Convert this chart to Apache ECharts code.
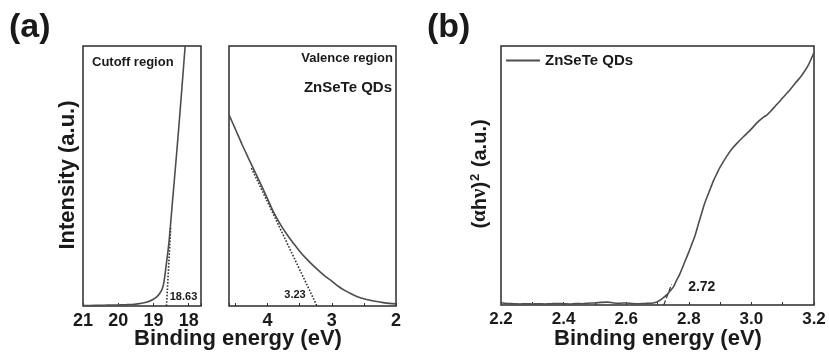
<!DOCTYPE html>
<html>
<head>
<meta charset="utf-8">
<script src="https://cdn.jsdelivr.net/npm/echarts@6/dist/echarts.min.js"></script>
<style>
  html, body { margin: 0; padding: 0; background: #fff; }
  #chart { width: 829px; height: 353px; }
</style>
</head>
<body>
<div id="chart"></div>
<script>
// UPS secondary-electron cutoff (binding energy, eV / intensity, a.u.)
const cutoffEnergy = [21.0, 20.8, 20.6, 20.4, 20.2, 20.0, 19.8, 19.6, 19.4, 19.2, 19.0, 18.9, 18.83, 18.76, 18.72, 18.68, 18.64, 18.60, 18.56, 18.52, 18.47, 18.40, 18.30, 18.20, 18.10, 18.07];
const cutoffIntensity = [0.2, 0.2, 0.25, 0.3, 0.35, 0.4, 0.5, 0.6, 0.9, 1.4, 2.6, 3.6, 4.7, 6.3, 8.0, 11.2, 15.5, 19.8, 24.5, 30.5, 38.5, 49.5, 65.5, 82.5, 100, 105];
const cutoffOnset = 18.63;
const cutoffTangentEnergy = [cutoffOnset, 18.51];
const cutoffTangentIntensity = [0, 30];

// UPS valence-band edge
const valenceEnergy = [4.6, 4.5, 4.4, 4.3, 4.2, 4.1, 4.0, 3.9, 3.8, 3.7, 3.6, 3.5, 3.4, 3.3, 3.2, 3.1, 3.0, 2.9, 2.8, 2.7, 2.6, 2.5, 2.4, 2.3, 2.2, 2.1, 2.0];
const valenceIntensity = [73.5, 68, 62.3, 57, 51.8, 46.6, 41.2, 35.8, 31.4, 27.6, 24.2, 21.1, 18.3, 15.8, 13.5, 11.4, 9.6, 7.6, 6.0, 4.7, 3.6, 2.8, 2.2, 1.7, 1.3, 1.0, 0.8];
const valenceOnset = 3.23;
const valenceTangentEnergy = [4.25, valenceOnset];
const valenceTangentIntensity = [53, 0];

// Tauc plot, (alpha h nu)^2 versus photon energy
const taucEnergy = [2.20, 2.22, 2.24, 2.26, 2.28, 2.30, 2.32, 2.34, 2.36, 2.38, 2.40, 2.42, 2.44, 2.46, 2.48, 2.50, 2.52, 2.54, 2.56, 2.58, 2.60, 2.62, 2.64, 2.66, 2.68, 2.70, 2.71, 2.72, 2.73, 2.74, 2.75, 2.76, 2.77, 2.78, 2.79, 2.80, 2.81, 2.82, 2.83, 2.84, 2.85, 2.86, 2.87, 2.88, 2.89, 2.90, 2.92, 2.94, 2.96, 2.98, 3.00, 3.02, 3.04, 3.05, 3.06, 3.08, 3.09, 3.10, 3.12, 3.14, 3.16, 3.18, 3.20];
const taucValue = [0.9, 0.6, 0.5, 0.4, 0.5, 0.4, 0.5, 0.4, 0.5, 0.6, 0.5, 0.4, 0.6, 0.5, 0.7, 0.8, 1.0, 1.1, 0.8, 0.7, 0.8, 0.6, 0.5, 0.6, 0.7, 1.3, 2.0, 2.9, 4.0, 5.4, 6.8, 9.3, 11.6, 14.5, 17.5, 20.4, 23.6, 26.8, 31.0, 35.0, 39.0, 42.2, 45.3, 48.3, 50.8, 53.2, 57.2, 60.6, 63.2, 65.6, 68.0, 70.6, 72.6, 73.4, 74.6, 77.3, 78.6, 80.0, 82.6, 85.6, 88.5, 92.2, 97.5];
const taucOnset = 2.72;
const taucTangentEnergy = [taucOnset, 2.745];
const taucTangentValue = [0, 8];

const sampleName = 'ZnSeTe QDs';

const SANS = '"Liberation Sans", Arial, Helvetica, sans-serif';
const SERIF = '"Liberation Serif", "Times New Roman", serif';
const INK = '#1a1a1a';
const CURVE = '#4d4d4d';

const zip = (xs, ys) => xs.map((x, i) => [x, ys[i]]);
const near = (v, step) => Math.abs(v / step - Math.round(v / step)) < 1e-6;

function onsetLabel(offset, size) {
  return {
    show: true,
    position: 'inside',
    offset: offset,
    formatter: p => p.value[0].toFixed(2),
    color: INK,
    fontFamily: SANS,
    fontWeight: 'bold',
    fontSize: size
  };
}

const gridBase = { show: true, borderColor: '#2b2b2b', borderWidth: 1.5, backgroundColor: 'transparent' };

const xBase = {
  type: 'value',
  inverse: true,
  axisLine: { show: false },
  axisTick: { show: true, inside: true, length: 3, lineStyle: { color: '#333', width: 1 } },
  splitLine: { show: false },
  axisLabel: { color: INK, fontFamily: SANS, fontWeight: 'bold', fontSize: 18, margin: 6 }
};

const yBase = {
  type: 'value', min: 0, max: 100,
  axisLine: { show: false }, axisTick: { show: false },
  axisLabel: { show: false }, splitLine: { show: false }
};

const chart = echarts.init(document.getElementById('chart'), null, { renderer: 'canvas' });

chart.setOption({
  animation: false,
  backgroundColor: '#fff',
  grid: [
    Object.assign({ left: 83, top: 46, width: 118, height: 260 }, gridBase),
    Object.assign({ left: 229, top: 46, width: 167, height: 260 }, gridBase),
    Object.assign({ left: 501, top: 46, width: 313, height: 259 }, gridBase)
  ],
  xAxis: [
    Object.assign({}, xBase, {
      gridIndex: 0, min: 17.65, max: 21, splitNumber: 3,
      axisLabel: Object.assign({}, xBase.axisLabel, {
        formatter: v => near(v, 1) ? String(Math.round(v)) : ''
      })
    }),
    Object.assign({}, xBase, {
      gridIndex: 1, min: 2, max: 4.6, interval: 0.5,
      axisLabel: Object.assign({}, xBase.axisLabel, {
        formatter: v => near(v, 1) ? String(Math.round(v)) : ''
      })
    }),
    Object.assign({}, xBase, {
      gridIndex: 2, inverse: false, min: 2.2, max: 3.2, interval: 0.1,
      axisLabel: Object.assign({}, xBase.axisLabel, {
        fontSize: 17,
        formatter: v => near(v, 0.2) ? v.toFixed(1) : ''
      })
    })
  ],
  yAxis: [
    Object.assign({ gridIndex: 0 }, yBase),
    Object.assign({ gridIndex: 1 }, yBase),
    Object.assign({ gridIndex: 2 }, yBase)
  ],
  legend: {
    data: [sampleName],
    left: 506, top: 53, padding: 0,
    icon: 'rect', itemWidth: 34, itemHeight: 2, itemGap: 4,
    itemStyle: { color: CURVE },
    textStyle: { color: INK, fontFamily: SANS, fontWeight: 'bold', fontSize: 15 }
  },
  series: [
    {
      name: 'cutoff', type: 'line', xAxisIndex: 0, yAxisIndex: 0,
      data: zip(cutoffEnergy, cutoffIntensity), showSymbol: false, symbol: 'none',
      smooth: 0.3, lineStyle: { color: CURVE, width: 1.6 }, z: 3
    },
    {
      name: 'cutoff onset', type: 'line', xAxisIndex: 0, yAxisIndex: 0,
      data: [
        { value: [cutoffTangentEnergy[0], cutoffTangentIntensity[0]], label: onsetLabel([17, -9], 11) },
        { value: [cutoffTangentEnergy[1], cutoffTangentIntensity[1]] }
      ],
      symbol: 'circle', symbolSize: 0, showSymbol: true,
      itemStyle: { color: 'rgba(0,0,0,0)' },
      lineStyle: { color: '#333', width: 1.6, type: 'dotted' }, z: 2
    },
    {
      name: 'valence', type: 'line', xAxisIndex: 1, yAxisIndex: 1,
      data: zip(valenceEnergy, valenceIntensity), showSymbol: false, symbol: 'none',
      smooth: 0.3, lineStyle: { color: CURVE, width: 1.6 }, z: 3
    },
    {
      name: 'valence onset', type: 'line', xAxisIndex: 1, yAxisIndex: 1,
      data: [
        { value: [valenceTangentEnergy[0], valenceTangentIntensity[0]] },
        { value: [valenceTangentEnergy[1], valenceTangentIntensity[1]], label: onsetLabel([-22, -11], 11) }
      ],
      symbol: 'circle', symbolSize: 0, showSymbol: true,
      itemStyle: { color: 'rgba(0,0,0,0)' },
      lineStyle: { color: '#333', width: 1.6, type: 'dotted' }, z: 2
    },
    {
      name: sampleName, type: 'line', xAxisIndex: 2, yAxisIndex: 2,
      data: zip(taucEnergy, taucValue), showSymbol: false, symbol: 'none',
      smooth: 0.3, lineStyle: { color: CURVE, width: 1.6 }, itemStyle: { color: CURVE }, z: 3
    },
    {
      name: 'tauc onset', type: 'line', xAxisIndex: 2, yAxisIndex: 2,
      data: [
        { value: [taucTangentEnergy[0], taucTangentValue[0]], label: onsetLabel([38, -18], 14) },
        { value: [taucTangentEnergy[1], taucTangentValue[1]] }
      ],
      symbol: 'circle', symbolSize: 0, showSymbol: true,
      itemStyle: { color: 'rgba(0,0,0,0)' },
      lineStyle: { color: '#333', width: 1.2, type: 'dashed' }, z: 2
    }
  ],
  graphic: [
    { type: 'text', x: 9, y: 28, style: { text: '(a)', fill: INK, font: 'bold 34px ' + SANS, verticalAlign: 'middle' } },
    { type: 'text', x: 427, y: 28, style: { text: '(b)', fill: INK, font: 'bold 34px ' + SANS, verticalAlign: 'middle' } },
    { type: 'text', x: 68, y: 175, rotation: Math.PI / 2,
      style: { text: 'Intensity (a.u.)', fill: INK, font: 'bold 22px ' + SANS, align: 'center', verticalAlign: 'middle' } },
    { type: 'text', x: 480, y: 174, rotation: Math.PI / 2,
      style: {
        text: '{s|(}{g|α}{s|h}{g|ν}{s|)}{sup|2}{s| (a.u.)}',
        align: 'center', verticalAlign: 'middle',
        rich: {
          s: { fill: INK, font: 'bold 20px ' + SANS },
          g: { fill: INK, font: 'bold 21px ' + SERIF },
          sup: { fill: INK, font: 'bold 13px ' + SANS, padding: [0, 1, 9, 1] }
        }
      } },
    { type: 'text', x: 238, y: 339,
      style: { text: 'Binding energy (eV)', fill: INK, font: 'bold 22px ' + SANS, align: 'center', verticalAlign: 'middle' } },
    { type: 'text', x: 658, y: 339,
      style: { text: 'Binding energy (eV)', fill: INK, font: 'bold 22px ' + SANS, align: 'center', verticalAlign: 'middle' } },
    { type: 'text', x: 92, y: 62,
      style: { text: 'Cutoff region', fill: INK, font: 'bold 13px ' + SANS, align: 'left', verticalAlign: 'middle' } },
    { type: 'text', x: 393, y: 58,
      style: { text: 'Valence region', fill: INK, font: 'bold 13px ' + SANS, align: 'right', verticalAlign: 'middle' } },
    { type: 'text', x: 392, y: 88,
      style: { text: sampleName, fill: INK, font: 'bold 15px ' + SANS, align: 'right', verticalAlign: 'middle' } }
  ]
});
</script>
</body>
</html>
